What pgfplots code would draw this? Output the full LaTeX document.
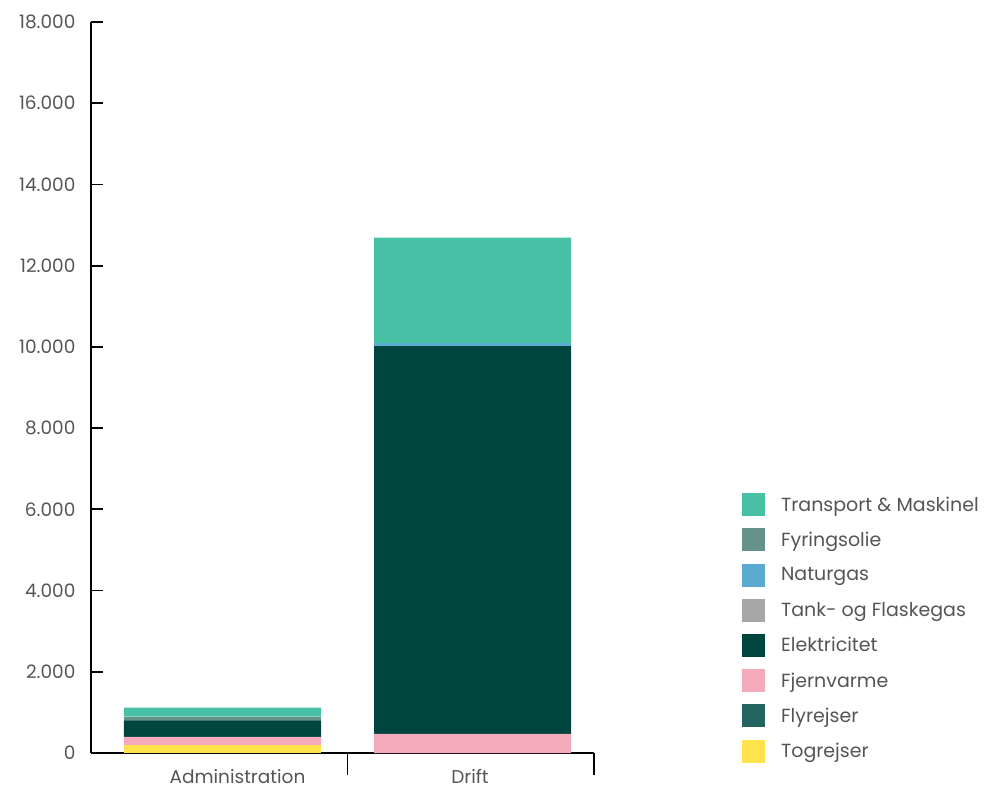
\documentclass[border=0pt]{standalone}
\usepackage{fontspec}
\setmainfont{Poppins}
\usepackage{pgfplots}
\pgfplotsset{compat=1.18}
\definecolor{ctransport}{HTML}{48C0A5}
\definecolor{cfyring}{HTML}{649189}
\definecolor{cnatur}{HTML}{5AAAD2}
\definecolor{ctank}{HTML}{A7A7AA}
\definecolor{celek}{HTML}{00453D}
\definecolor{cfjern}{HTML}{F5AABB}
\definecolor{cfly}{HTML}{236460}
\definecolor{ctog}{HTML}{FFE34C}
\definecolor{txt}{HTML}{555557}
\begin{document}
\begin{tikzpicture}
\begin{axis}[
  at={(0pt,0pt)}, anchor=south west,
  scale only axis, width=503pt, height=731pt,
  ybar stacked, bar width=197pt,
  xmin=-0.526, xmax=1.486, ymin=0, ymax=18000,
  axis x line=bottom, axis y line=left,
  axis line style={-, line width=1.7pt, black},
  clip=false,
  xtick={0.06,0.99}, xticklabels={Administration,Drift},
  x tick style={draw=none},
  xticklabel style={yshift=-13pt},
  ytick={0,2000,...,18000},
  scaled y ticks=false,
  y tick style={line width=1.7pt, black},
  major tick length=12pt, tick align=inside,
  yticklabel style={xshift=-12pt},
  tick label style={font=\fontsize{18.5}{21}\selectfont, text=txt},
  /pgf/number format/.cd, fixed, 1000 sep={.}, assume math mode=true,
  /pgfplots/.cd,
  reverse legend,
  legend image code/.code={\fill[#1,draw=none] (0pt,-11.5pt) rectangle (23pt,11.5pt);},
  legend style={at={(1.294,0.3557)}, anchor=north west, draw=none, fill=none,
    inner sep=0pt, row sep=12.2pt, column sep=16pt,
    nodes={inner sep=0pt, anchor=west},
    font=\fontsize{19}{22}\selectfont, text=txt},
  legend cell align=left,
]
\addplot[fill=ctog, draw=none] coordinates {(0,200) (1,0)};
\addplot[fill=cfly, draw=none] coordinates {(0,0) (1,0)};
\addplot[fill=cfjern, draw=none] coordinates {(0,200) (1,470)};
\addplot[fill=celek, draw=none] coordinates {(0,395) (1,9550)};
\addplot[fill=ctank, draw=none] coordinates {(0,0) (1,0)};
\addplot[fill=cnatur, draw=none] coordinates {(0,0) (1,70)};
\addplot[fill=cfyring, draw=none] coordinates {(0,100) (1,0)};
\addplot[fill=ctransport, draw=none] coordinates {(0,220) (1,2600)};
\legend{Togrejser,Flyrejser,Fjernvarme,Elektricitet,Tank- og Flaskegas,Naturgas,Fyringsolie,Transport \& Maskinel}
\draw[line width=1.7pt] (axis cs:0.5,0) -- ([yshift=-22pt]axis cs:0.5,0);
\draw[line width=1.7pt] (axis cs:1.486,0) -- ([yshift=-22pt]axis cs:1.486,0);
\end{axis}
\pgfresetboundingbox
\path[use as bounding box] (-91pt,-36pt) rectangle (896pt,753pt);
\end{tikzpicture}
\end{document}
